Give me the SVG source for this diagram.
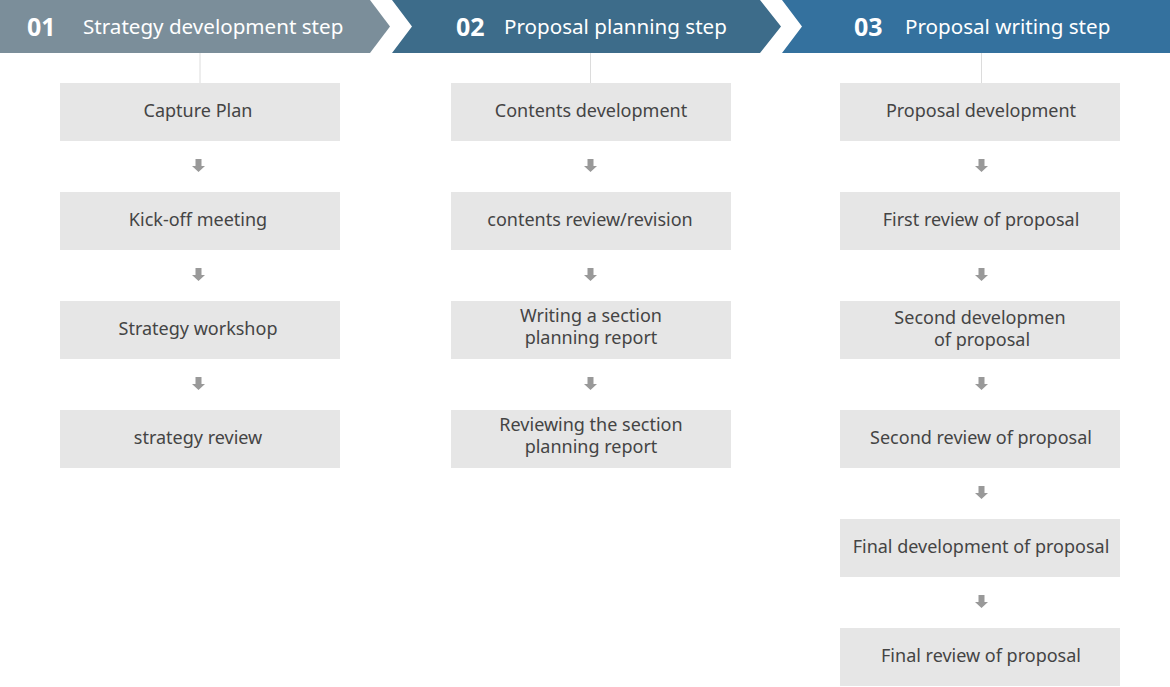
<svg xmlns="http://www.w3.org/2000/svg" width="1170" height="687" viewBox="0 0 1170 687">
<style>
.box{fill:#e6e6e6}
.t{font-family:"Noto Sans","Liberation Sans",sans-serif;font-size:18px;fill:#444;text-anchor:middle}
.num{font-family:"Noto Sans","Liberation Sans",sans-serif;font-size:25px;font-weight:bold;fill:#fff}
.hd{font-family:"Noto Sans","Liberation Sans",sans-serif;font-size:20.6px;fill:#fff}
.ln{stroke:#dcdcdc;stroke-width:1}
.ar{fill:#999}
</style>
<defs>
<path id="arr" d="M-3,-7 H3 V0 H6.5 L0,6 L-6.5,0 H-3 Z"/>
</defs>
<g id="header1">
<polygon points="0,0 370,0 390,26.5 370,53 0,53" fill="#7b8e9a"/>
<text class="num" x="27" y="36">01</text>
<text class="hd" x="83" y="34">Strategy development step</text>
</g>
<g id="header2">
<polygon points="392,0 760,0 781,26.5 760,53 392,53 412,26.5" fill="#3d6c8a"/>
<text class="num" x="456" y="36">02</text>
<text class="hd" x="504" y="34">Proposal planning step</text>
</g>
<g id="header3">
<polygon points="782,0 1170,0 1170,53 782,53 802,26.5" fill="#34719e"/>
<text class="num" x="854" y="36">03</text>
<text class="hd" x="905" y="34">Proposal writing step</text>
</g>
<g id="connectors">
<line class="ln" x1="200" y1="53" x2="200" y2="83"/>
<line class="ln" x1="590.5" y1="53" x2="590.5" y2="83"/>
<line class="ln" x1="981.5" y1="53" x2="981.5" y2="88"/>
<use href="#arr" class="ar" x="198.5" y="166"/>
<use href="#arr" class="ar" x="198.5" y="275"/>
<use href="#arr" class="ar" x="198.5" y="384"/>
<use href="#arr" class="ar" x="590.5" y="166"/>
<use href="#arr" class="ar" x="590.5" y="275"/>
<use href="#arr" class="ar" x="590.5" y="384"/>
<use href="#arr" class="ar" x="981.5" y="166"/>
<use href="#arr" class="ar" x="981.5" y="275"/>
<use href="#arr" class="ar" x="981.5" y="384"/>
<use href="#arr" class="ar" x="981.5" y="493"/>
<use href="#arr" class="ar" x="981.5" y="602"/>
</g>
<g id="c1n1"><rect class="box" x="60" y="83" width="280" height="58"/><text class="t" x="198" y="117">Capture Plan</text></g>
<g id="c1n2"><rect class="box" x="60" y="192" width="280" height="58"/><text class="t" x="198" y="226">Kick-off meeting</text></g>
<g id="c1n3"><rect class="box" x="60" y="301" width="280" height="58"/><text class="t" x="198" y="335">Strategy workshop</text></g>
<g id="c1n4"><rect class="box" x="60" y="410" width="280" height="58"/><text class="t" x="198" y="444">strategy review</text></g>
<g id="c2n1"><rect class="box" x="451" y="83" width="280" height="58"/><text class="t" x="591" y="117">Contents development</text></g>
<g id="c2n2"><rect class="box" x="451" y="192" width="280" height="58"/><text class="t" x="590" y="226">contents review/revision</text></g>
<g id="c2n3"><rect class="box" x="451" y="301" width="280" height="58"/><text class="t" x="591" y="322">Writing a section</text><text class="t" x="591" y="344">planning report</text></g>
<g id="c2n4"><rect class="box" x="451" y="410" width="280" height="58"/><text class="t" x="591" y="431">Reviewing the section</text><text class="t" x="591" y="453">planning report</text></g>
<g id="c3n1"><rect class="box" x="840" y="83" width="280" height="58"/><text class="t" x="981" y="117">Proposal development</text></g>
<g id="c3n2"><rect class="box" x="840" y="192" width="280" height="58"/><text class="t" x="981" y="226">First review of proposal</text></g>
<g id="c3n3"><rect class="box" x="840" y="301" width="280" height="58"/><text class="t" x="980" y="324">Second developmen</text><text class="t" x="982" y="346">of proposal</text></g>
<g id="c3n4"><rect class="box" x="840" y="410" width="280" height="58"/><text class="t" x="981" y="444">Second review of proposal</text></g>
<g id="c3n5"><rect class="box" x="840" y="519" width="280" height="58"/><text class="t" x="981" y="553">Final development of proposal</text></g>
<g id="c3n6"><rect class="box" x="840" y="628" width="280" height="58"/><text class="t" x="981" y="662">Final review of proposal</text></g>
</svg>
